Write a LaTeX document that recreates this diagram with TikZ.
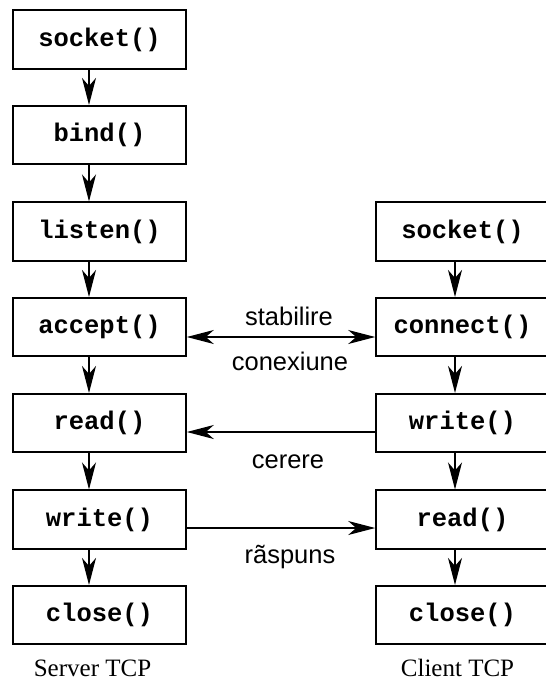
\documentclass[tikz,border=0pt]{standalone}
\usepackage{fontspec}
\setmainfont{Liberation Serif}
\newfontfamily\labfont{Liberation Sans}
\newfontfamily\codefont{Liberation Mono}
\usetikzlibrary{arrows.meta}
\begin{document}
\begin{tikzpicture}[x=1pt,y=-1pt,
  fn/.style={draw, line width=1.6pt, minimum width=173pt, minimum height=58.5pt, inner sep=0pt,
    font=\codefont\bfseries\fontsize{25.5}{30}\selectfont},
  flow/.style={-{Stealth[length=27pt,width=14pt,inset=8pt]}, line width=1.3pt},
  both/.style={{Stealth[length=27pt,width=14pt,inset=8pt]}-{Stealth[length=27pt,width=14pt,inset=8pt]}, line width=1.3pt},
  lab/.style={font=\labfont\fontsize{25.5}{30}\selectfont, anchor=base, inner sep=0pt},
  captxt/.style={font=\fontsize{25}{30}\selectfont, anchor=base, inner sep=0pt, text depth=0pt}]
\useasboundingbox (0,0) rectangle (546,680);
\clip (0,0) rectangle (546,680);
% server column
\node[fn] (s1) at (99.5,39.5) {socket()};
\node[fn] (s2) at (99.5,135) {bind()};
\node[fn] (s3) at (99.5,231.5) {listen()};
\node[fn] (s4) at (99.5,327) {accept()};
\node[fn] (s5) at (99.5,423) {read()};
\node[fn] (s6) at (99.5,519.5) {write()};
\node[fn] (s7) at (99.5,615) {close()};
% client column
\node[fn] (c1) at (462.5,231.5) {socket()};
\node[fn] (c2) at (462.5,327) {connect()};
\node[fn] (c3) at (462.5,423) {write()};
\node[fn] (c4) at (462.5,519.5) {read()};
\node[fn] (c5) at (462.5,615) {close()};
% vertical arrows
\foreach \a/\b in {s1/s2,s2/s3,s3/s4,s4/s5,s5/s6,s6/s7}
  \draw[flow] ([xshift=-10.5pt]\a.south) -- ([xshift=-10.5pt]\b.north);
\foreach \a/\b in {c1/c2,c2/c3,c3/c4,c4/c5}
  \draw[flow] ([xshift=-7.5pt]\a.south) -- ([xshift=-7.5pt]\b.north);
% horizontal arrows
\draw[both] ([yshift=-10pt]s4.east) -- ([yshift=-10pt]c2.west);
\draw[flow] ([yshift=-9pt]c3.west) -- ([yshift=-9pt]s5.east);
\draw[flow] ([yshift=-8.5pt]s6.east) -- ([yshift=-8.5pt]c4.west);
% labels
\node[lab] (l1) at (289,325) {stabilire};
\node[lab] (l2) at (290,370) {conexiune};
\node[lab] (l3) at (288,468) {cerere};
\node[lab] (l4) at (290,563) {rãspuns};
\node[captxt] (t1) at (92.5,676) {Server TCP};
\node[captxt] (t2) at (457.5,676) {Client TCP};
\end{tikzpicture}
\end{document}
